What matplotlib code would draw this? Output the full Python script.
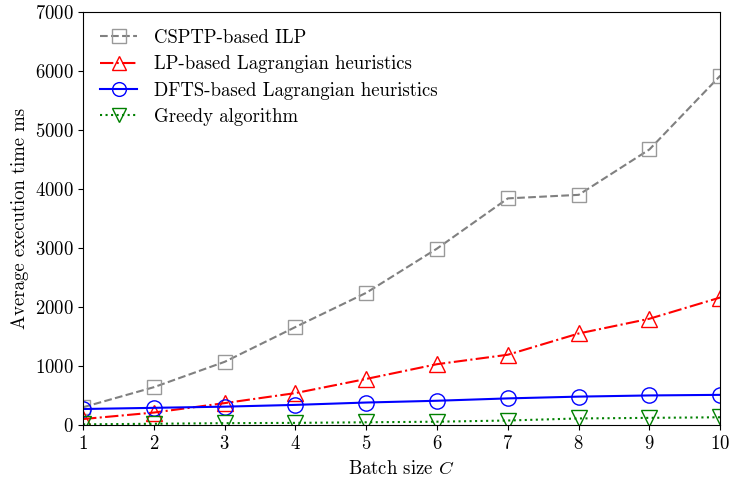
import numpy as np
import matplotlib.pyplot as plt

plt.rcParams['font.family'] = 'serif'
plt.rcParams['font.serif'] = ['cmr10']
plt.rcParams['mathtext.fontset'] = 'cm'
plt.rcParams['axes.formatter.use_mathtext'] = True

# Data
batch_size = [1, 2, 3, 4, 5, 6, 7, 8, 9, 10]
csptp_ilp = [300, 640, 1070, 1660, 2240, 2990, 3840, 3900, 4670, 5920]
lp_lagrangian = [100, 210, 370, 540, 780, 1030, 1190, 1550, 1800, 2160]
dfts_lagrangian = [270, 290, 310, 340, 380, 410, 450, 480, 500, 510]
greedy = [10, 20, 30, 35, 45, 55, 75, 110, 120, 130]

fig = plt.figure(figsize=(7.29, 4.78), dpi=100)
ax = fig.add_axes([0.114, 0.111, 0.874, 0.864])

ax.plot(batch_size, csptp_ilp, '--', color='gray', marker='s', markersize=10.5,
        markerfacecolor='none', markeredgecolor='#999999', lw=1.5, label='CSPTP-based ILP')
ax.plot(batch_size, lp_lagrangian, '-.', color='red', marker='^', markersize=11,
        markerfacecolor='none', lw=1.5, label='LP-based Lagrangian heuristics')
ax.plot(batch_size, dfts_lagrangian, '-', color='blue', marker='o', markersize=11,
        markerfacecolor='none', lw=1.5, label='DFTS-based Lagrangian heuristics')
ax.plot(batch_size, greedy, ':', color='green', marker='v', markersize=11,
        markerfacecolor='none', lw=1.5, label='Greedy algorithm')

ax.set_xlim(1, 10)
ax.set_ylim(0, 7000)
ax.set_xticks(batch_size)
ax.set_yticks(range(0, 7001, 1000))
ax.tick_params(labelsize=13.5)
ax.set_xlabel('Batch size $C$', fontsize=13.5, labelpad=5)
ax.set_ylabel('Average execution time ms', fontsize=13.5, labelpad=4)
ax.legend(loc='upper left', frameon=False, fontsize=13.5, handlelength=2.0,
          handletextpad=0.9, markerscale=0.9, labelspacing=0.45)

plt.savefig('out.png', dpi=100)
